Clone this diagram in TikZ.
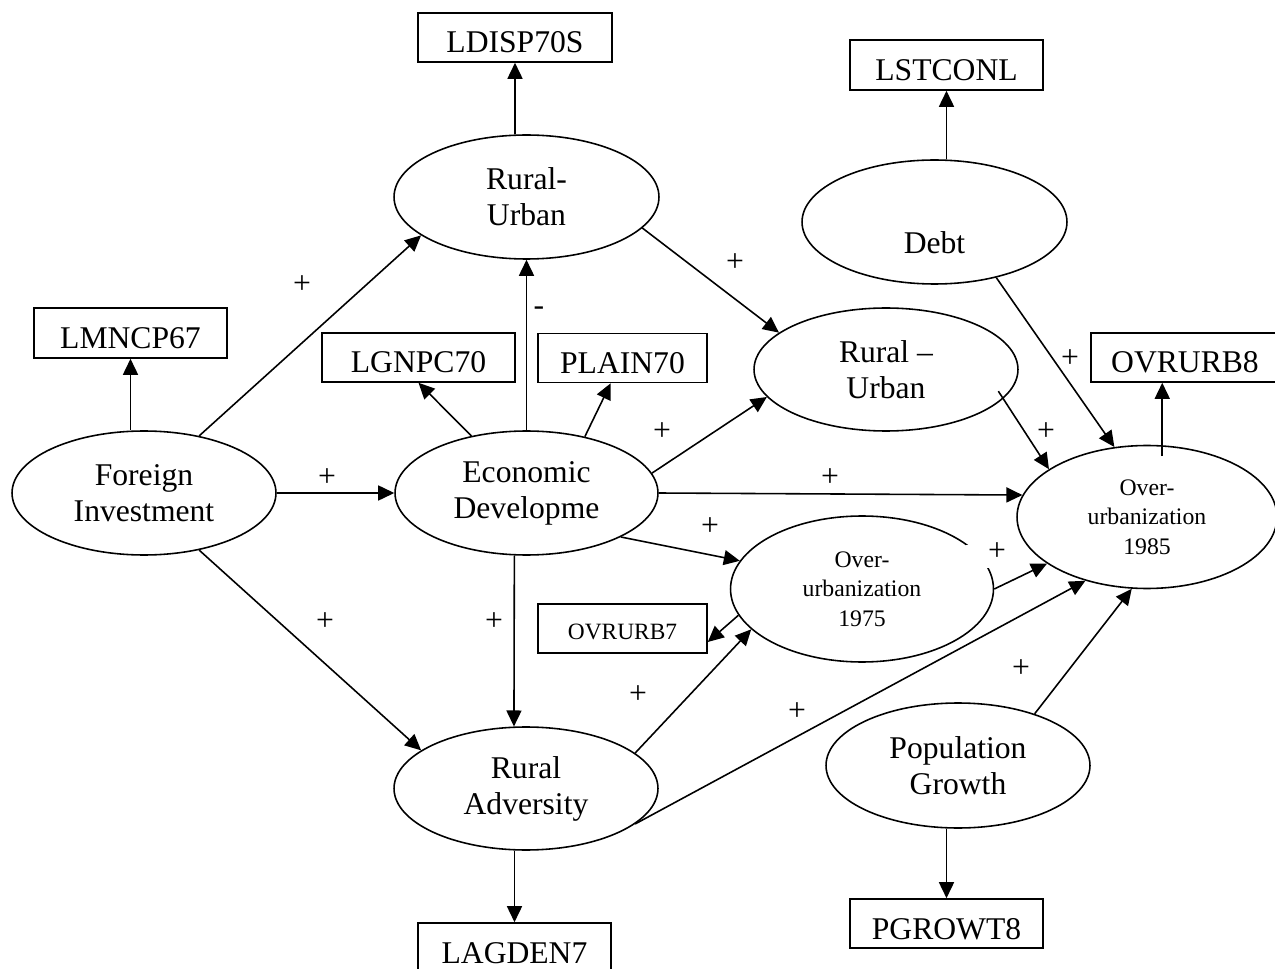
\documentclass[tikz,border=0pt]{standalone}
\usepackage{fontspec}
\setmainfont{Liberation Serif}
\usetikzlibrary{shapes.geometric,arrows.meta}
\newcommand\FntBig{\fontsize{18}{20.5}\selectfont}
\newcommand\FntSmall{\fontsize{13.5}{16.8}\selectfont}
\newcommand\FntTiny{\fontsize{13.3}{15}\selectfont}
\begin{document}
\begin{tikzpicture}[x=0.02cm,y=-0.02cm,
  ell/.style={ellipse,draw,line width=0.9pt,inner sep=0pt,align=center,font=\FntBig},
  bx/.style={rectangle,draw,line width=0.9pt,inner sep=0pt,font=\FntBig,minimum height=0.98cm,
             text height=0.62cm,text depth=0pt},
  arr/.style={line width=0.9pt,-{Triangle[length=0.32cm,width=0.3cm]}},
  sgn/.style={font=\FntBig,inner sep=0pt}]
\fill[white] (0,0) rectangle (1275,969);
\clip (0,0) rectangle (1275,969);

% boxes
\node[bx,minimum width=3.88cm] (ldisp) at (515,37.5) {LDISP70S};
\node[bx,minimum width=3.86cm,minimum height=1cm] (lst) at (946.5,65) {LSTCONL};
\node[bx,minimum width=3.86cm,minimum height=1cm] (lmn) at (130.5,333) {LMNCP67};
\node[bx,minimum width=3.86cm] (lgn) at (418.5,357.5) {LGNPC70};
\node[bx,minimum width=3.38cm] (plain) at (622.5,358) {PLAIN70};
\node[bx,minimum width=3.76cm] (ovr8) at (1185,357.5) {OVRURB8};
\node[bx,minimum width=3.38cm,font=\FntTiny,text height=0.45cm] (ovr7) at (622.5,628.5) {OVRURB7};
\node[bx,minimum width=3.86cm] (lag) at (514.5,947.5) {LAGDEN7};
\node[bx,minimum width=3.86cm] (pgr) at (946.5,923.5) {PGROWT8};

% ellipses
\node[ell,minimum width=5.28cm,minimum height=2.48cm] (fi) at (144,493) {Foreign\\Investment};
\node[ell,minimum width=5.26cm,minimum height=2.48cm] (ed) at (526.5,493) {Economic\\Developme};
\node[ell,minimum width=5.30cm,minimum height=2.48cm] (ru1) at (526.5,197) {Rural-\\Urban};
\node[ell,minimum width=5.30cm,minimum height=2.48cm,
      label={[font=\FntBig,yshift=-0.42cm]center:Debt}] (debt) at (934.5,222) {};
\node[ell,minimum width=5.28cm,minimum height=2.46cm] (ru2) at (886,369.5) {Rural --\\Urban};
\node[ell,font=\FntSmall,minimum width=5.26cm,minimum height=2.92cm] (ou75) at (862,589) {Over-\\urbanization\\1975};
\fill[white] (966,545) rectangle (1012,568);
\node[ell,font=\FntSmall,minimum width=5.20cm,minimum height=2.86cm] (ou85) at (1147,517) {Over-\\urbanization\\1985};
\node[ell,minimum width=5.28cm,minimum height=2.46cm] (ra) at (526,788.5) {Rural\\Adversity};
\node[ell,minimum width=5.28cm,minimum height=2.50cm] (pg) at (958,765.5) {Population\\Growth};

% signs
\node[sgn] (s1) at (302,285) {+};
\node[sgn] (s2) at (327,478) {+};
\node[sgn] (s3) at (325,622) {+};
\node[sgn] (s4) at (539,311) {-};
\node[sgn] (s5) at (662,432) {+};
\node[sgn] (s6) at (830,478) {+};
\node[sgn] (s7) at (710,527) {+};
\node[sgn] (s8) at (494,622) {+};
\node[sgn] (s9) at (735,263) {+};
\node[sgn] (s10) at (1070,359) {+};
\node[sgn] (s11) at (1046,432) {+};
\node[sgn] (s12) at (997,552) {+};
\node[sgn] (s13) at (638,695) {+};
\node[sgn] (s14) at (797,712) {+};
\node[sgn] (s15) at (1021,669) {+};

% connectors
\draw[arr] (fi.north -| lmn.south) -- (lmn.south);
\draw[arr] (fi.46) -- (ru1.200);
\draw[arr] (fi.east) -- (ed.west);
\draw[arr] (fi.-46) -- (ra.160.9);
\draw[arr] (ed.134) -- (lgn.south);
\draw[arr] (ed.north) -- (ru1.south);
\draw[arr] (ed.44.8) -- (plain.-115);
\draw[arr] (ed.9) -- (ru2.193);
\draw[arr] (ed.east) -- (ou85.170.3);
\draw[arr] (ed.-25.2) -- (ou75.167.2);
\draw[arr] (ed.259) -- (ra.101);
\draw[arr] (ru1.north -| ldisp.south) -- (ldisp.south);
\draw[arr] (ru1.-15.7) -- (ru2.161);
\draw[arr] (debt.north -| lst.south) -- (lst.south);
\draw[arr] (debt.-42.8) -- (ou85.115.3);
\draw[arr,shorten <=-0.18cm] (ru2.-14.2) -- (ou85.154.5);
\draw[arr,shorten <=-0.22cm] (ou85.78) -- (ou85.78 |- ovr8.south);
\draw[arr] (ou75.192.5) -- (ovr7.-9.6);
\draw[arr] (ou75.east) -- (ou85.205);
\draw[arr] (ra.18.5) -- (ou75.200.6);
\draw[arr] (ra.-18.8) -- (ou85.226.9);
\draw[arr] (ra.south -| lag.north) -- (lag.north);
\draw[arr] (pg.34.2) -- (ou85.258.7);
\draw[arr] (pg.south -| pgr.north) -- (pgr.north);
\end{tikzpicture}
\end{document}
